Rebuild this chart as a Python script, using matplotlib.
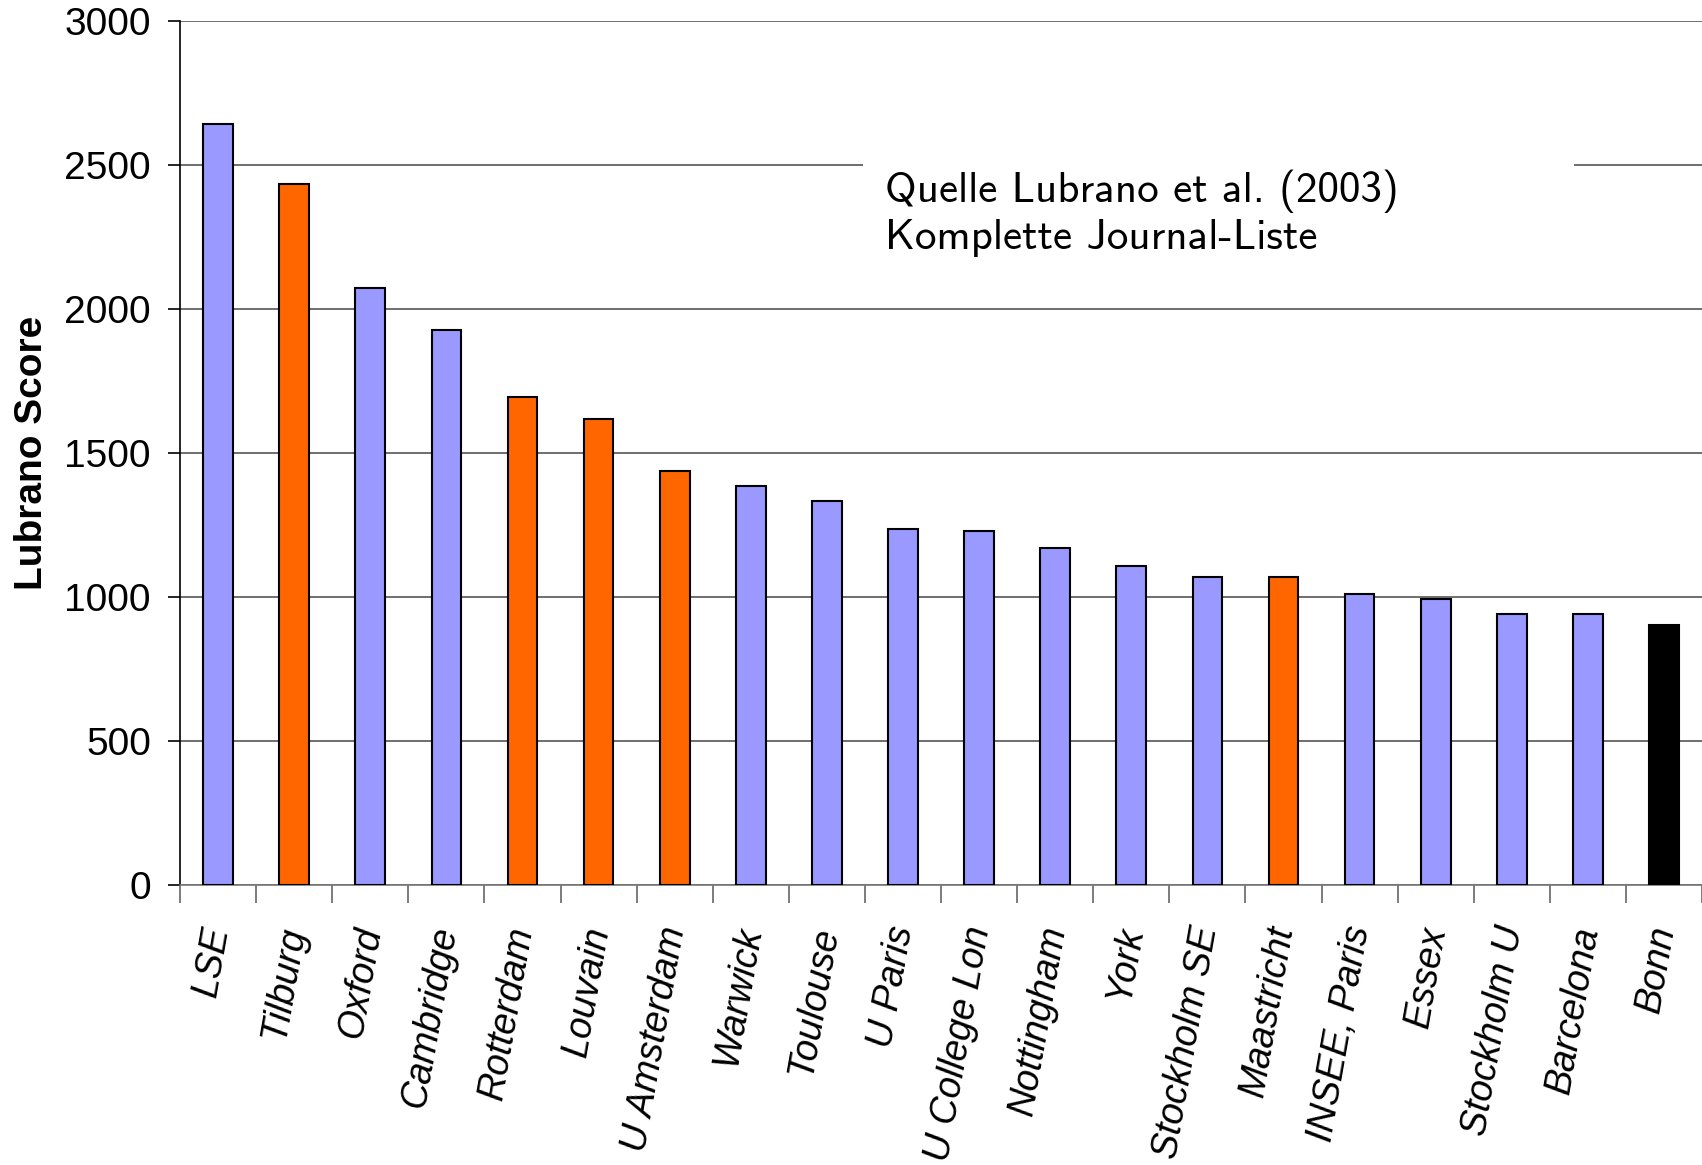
import numpy as np
import matplotlib.pyplot as plt
from matplotlib.patches import Rectangle

universities = [
    "LSE", "Tilburg", "Oxford", "Cambridge", "Rotterdam", "Louvain",
    "U Amsterdam", "Warwick", "Toulouse", "U Paris", "U College Lon",
    "Nottingham", "York", "Stockholm SE", "Maastricht", "INSEE, Paris",
    "Essex", "Stockholm U", "Barcelona", "Bonn",
]
scores = [
    2640, 2432, 2073, 1926, 1692, 1617, 1436, 1383, 1331, 1236, 1229,
    1168, 1108, 1067, 1067, 1010, 991, 939, 939, 901,
]
groups = [
    "other", "nl", "other", "other", "nl", "nl", "nl", "other", "other",
    "other", "other", "other", "other", "other", "nl", "other", "other",
    "other", "other", "bonn",
]
group_colors = {"other": "#9999FF", "nl": "#FF6600", "bonn": "#000000"}
y_ticks = [0, 500, 1000, 1500, 2000, 2500, 3000]
note_lines = ["Quelle Lubrano et al. (2003)", "Komplette Journal-Liste"]

plt.rcParams["font.family"] = ["Liberation Sans", "DejaVu Sans"]

fig = plt.figure(figsize=(17.02, 11.65), dpi=100)
ax = fig.add_axes([0.1058, 0.2406, 0.8942, 0.7417])

x = np.arange(len(universities))
colors = [group_colors[g] for g in groups]
ax.bar(x, scores, width=0.39, color=colors, edgecolor="black", linewidth=1.5, zorder=3)

ax.set_xlim(-0.5, len(universities) - 0.5)
ax.set_ylim(0, 3000)
ax.set_yticks(y_ticks)
ax.tick_params(axis="y", labelsize=28, length=9, width=1.2, direction="out", pad=12)
ax.yaxis.grid(True, color="#555555", linewidth=1.2, zorder=0)
ax.set_axisbelow(True)

ax.set_xticks(x)
ax.set_xticklabels(universities, rotation=80, ha="right", va="center",
                   rotation_mode="anchor", fontsize=27, style="italic")
ax.tick_params(axis="x", length=0, pad=30)
ax.set_xticks(np.arange(-0.5, len(universities), 1.0), minor=True)
ax.tick_params(axis="x", which="minor", length=13, width=1.2, color="#666666")

for side in ["top", "right"]:
    ax.spines[side].set_visible(False)
ax.spines["left"].set_color("black")
ax.spines["left"].set_linewidth(1.2)
ax.spines["bottom"].set_color("#777777")
ax.spines["bottom"].set_linewidth(1.2)

ax.set_ylabel("Lubrano Score", fontsize=28, fontweight="bold", labelpad=10)

# white box behind the source note, hiding the grid line
ax.add_patch(Rectangle((0.4486, 0.715), 0.467, 0.135, transform=ax.transAxes,
                       facecolor="white", edgecolor="none", zorder=2))
ax.text(0.463, 0.828, "\n".join(note_lines), transform=ax.transAxes,
        fontsize=31, family=["cmss10", "DejaVu Sans"], va="top", ha="left",
        linespacing=1.2, zorder=4)

fig.savefig("out.png", dpi=100)
